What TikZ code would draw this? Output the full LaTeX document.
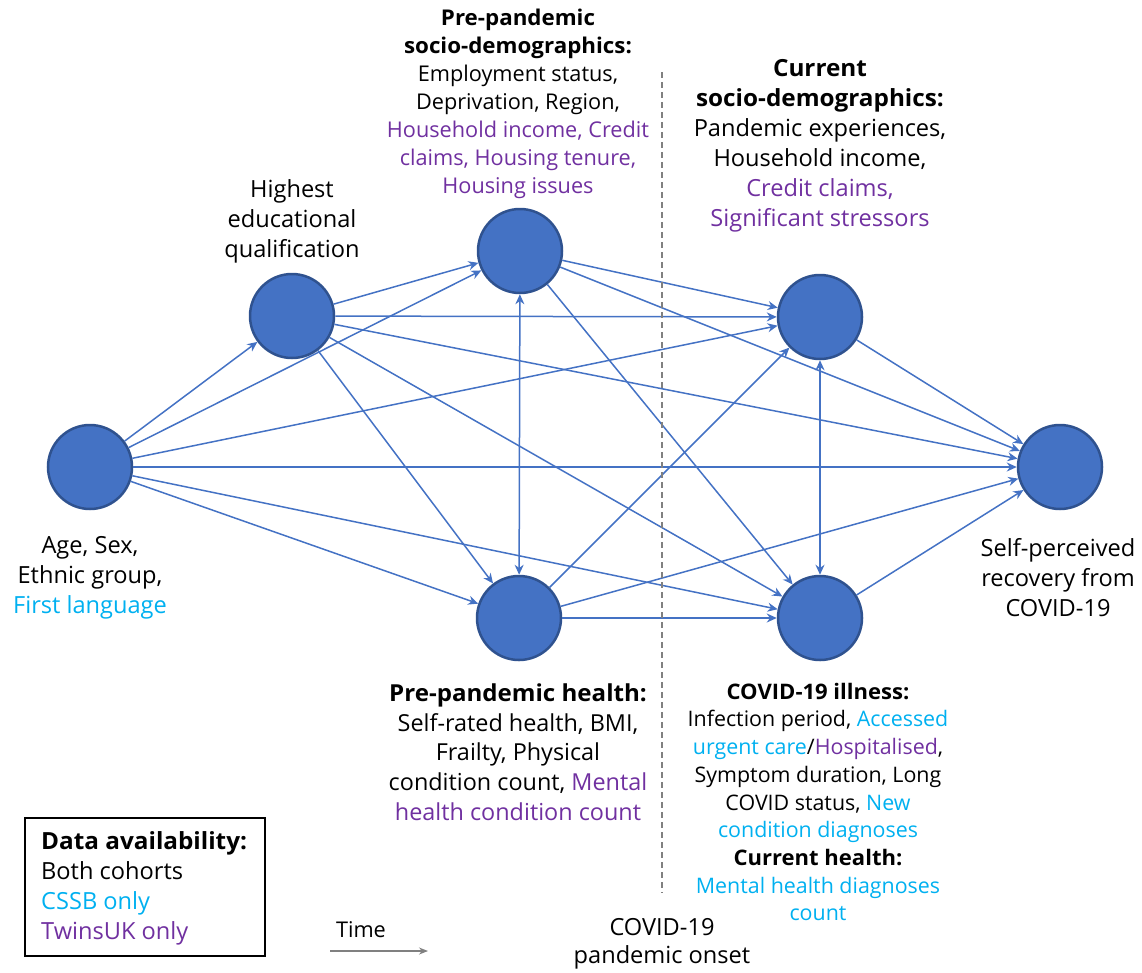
\documentclass[tikz,border=0pt]{standalone}
\usepackage{fontspec}
\setmainfont{Open Sans}[BoldFeatures={FakeStretch=1.03}]
\usetikzlibrary{arrows.meta}
\definecolor{nodefill}{HTML}{4472C4}
\definecolor{nodeline}{HTML}{2F528F}
\definecolor{cssb}{HTML}{00B0F0}
\definecolor{twins}{HTML}{7030A0}
\definecolor{timegray}{HTML}{808080}
\tikzset{
  varnode/.style={circle, fill=nodefill, draw=nodeline, line width=2.5pt, minimum size=84pt, inner sep=0pt},
  edge/.style={draw=nodefill, line width=1.5pt, -{Stealth[length=10pt,width=9pt]}},
  biedge/.style={draw=nodefill, line width=1.5pt, {Stealth[length=10pt,width=9pt]}-{Stealth[length=10pt,width=9pt]}},
  lbl/.style={align=center, inner sep=0pt, font=\fontsize{23.6}{30}\selectfont},
  smalllbl/.style={align=center, inner sep=0pt, font=\fontsize{21.7}{28}\selectfont},
}
\begin{document}
\begin{tikzpicture}[x=1pt, y=-1pt]
\useasboundingbox (0,0) rectangle (1142,972);
% nodes
\node[varnode] (A) at (90,467) {};
\node[varnode] (E) at (292,316) {};
\node[varnode] (P) at (520,251) {};
\node[varnode] (H) at (519,618) {};
\node[varnode] (C) at (820,317) {};
\node[varnode] (I) at (820,618) {};
\node[varnode] (R) at (1060,467) {};
% edges
\draw[edge] (A) -- (E);
\draw[edge] (A) -- (P);
\draw[edge] (A) -- (C);
\draw[edge] (A) -- (R);
\draw[edge] (A) -- (I);
\draw[edge] (A) -- (H);
\draw[edge] (E) -- (P);
\draw[edge] (E) -- (C);
\draw[edge] (E) -- (R);
\draw[edge] (E) -- (I);
\draw[edge] (E) -- (H);
\draw[edge] (P) -- (C);
\draw[edge] (P) -- (R);
\draw[edge] (P) -- (I);
\draw[biedge] (P) -- (H);
\draw[edge] (H) -- (C);
\draw[edge] (H) -- (R);
\draw[edge] (H) -- (I);
\draw[biedge] (C) -- (I);
\draw[edge] (C) -- (R);
\draw[edge] (I) -- (R);
% dashed onset line
\coordinate (onsettop) at (662,72);
\coordinate (onsetbot) at (662,893);
\draw[timegray, line width=1.3pt, dash pattern=on 6pt off 4pt] (onsettop) -- (onsetbot);
% labels
\node[lbl] (Elbl) at (292,221) {Highest\\educational\\qualification};
\node[smalllbl] (Plbl) at (518,104) {\textbf{Pre-pandemic}\\\textbf{socio-demographics:}\\Employment status,\\Deprivation, Region,\\\textcolor{twins}{Household income, Credit}\\\textcolor{twins}{claims, Housing tenure,}\\\textcolor{twins}{Housing issues}};
\node[lbl] (Clbl) at (820,146) {\textbf{Current}\\\textbf{socio-demographics:}\\Pandemic experiences,\\Household income,\\\textcolor{twins}{Credit claims,}\\\textcolor{twins}{Significant stressors}};
\node[lbl] (Albl) at (90,578) {Age, Sex,\\Ethnic group,\\\textcolor{cssb}{First language}};
\node[lbl] (Rlbl) at (1058,578) {Self-perceived\\recovery from\\COVID-19};
\node[lbl, font=\fontsize{23.4}{29.7}\selectfont] (Hlbl) at (518,752) {\textbf{Pre-pandemic health:}\\Self-rated health, BMI,\\Frailty, Physical\\condition count, \textcolor{twins}{Mental}\\\textcolor{twins}{health condition count}};
\node[smalllbl, font=\fontsize{21.4}{27.7}\selectfont] (Ilbl) at (818,802) {\textbf{COVID-19 illness:}\\Infection period, \textcolor{cssb}{Accessed}\\\textcolor{cssb}{urgent care}/\textcolor{twins}{Hospitalised},\\Symptom duration, Long\\COVID status, \textcolor{cssb}{New}\\\textcolor{cssb}{condition diagnoses}\\\textbf{Current health:}\\\textcolor{cssb}{Mental health diagnoses}\\\textcolor{cssb}{count}};
% legend
\draw[line width=1.5pt] (25,818) rectangle (265,956);
\node[lbl, align=left, anchor=west] (legend) at (41,888) {\textbf{Data availability:}\\Both cohorts\\\textcolor{cssb}{CSSB only}\\\textcolor{twins}{TwinsUK only}};
% time
\node[smalllbl] (timelbl) at (361,930) {Time};
\coordinate (timestart) at (330,951);
\coordinate (timeend) at (428,951);
\draw[timegray, line width=1.3pt, -{Stealth[length=9pt,width=7pt]}] (timestart) -- (timeend);
\node[lbl, font=\fontsize{23.6}{28}\selectfont] (onsetlbl) at (662,944) {COVID-19\\pandemic onset};
\end{tikzpicture}
\end{document}
